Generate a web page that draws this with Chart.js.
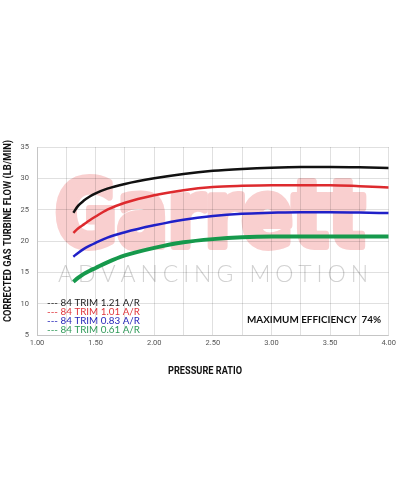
<!DOCTYPE html>
<html>
<head>
<meta charset="utf-8">
<script src="https://cdn.jsdelivr.net/npm/chart.js@4.4.1/dist/chart.umd.min.js"></script>
<style>
    body { margin: 0; background: #fff; }
    #wrap { width: 400px; height: 489px; }
</style>
</head>
<body>
<div id="wrap"><canvas id="flowChart" width="400" height="489"></canvas></div>
<script>
// pressure ratio samples and corrected gas flow (lb/min)
const pressure = [1.31, 1.35, 1.4, 1.45, 1.5, 1.6, 1.75, 2.0, 2.25, 2.5, 2.75, 3.0, 3.25, 3.5, 3.75, 4.0];
const flow121 = [24.5, 25.6, 26.45, 27.1, 27.6, 28.35, 29.1, 30.0, 30.7, 31.2, 31.5, 31.7, 31.8, 31.8, 31.75, 31.65];
const flow101 = [21.3, 22.0, 22.65, 23.3, 23.9, 25.0, 26.1, 27.3, 28.1, 28.6, 28.8, 28.9, 28.9, 28.9, 28.75, 28.55];
const flow083 = [17.5, 18.1, 18.75, 19.25, 19.7, 20.55, 21.4, 22.5, 23.4, 24.0, 24.35, 24.5, 24.6, 24.6, 24.55, 24.45];
const flow061 = [13.5, 14.1, 14.75, 15.25, 15.7, 16.6, 17.7, 18.9, 19.8, 20.3, 20.6, 20.7, 20.7, 20.7, 20.7, 20.7];

const seriesNames = ['84 TRIM 1.21 A/R', '84 TRIM 1.01 A/R', '84 TRIM 0.83 A/R', '84 TRIM 0.61 A/R'];
const seriesColors = ['#111111', '#dd2a2e', '#2020c8', '#16994c'];
const legendColors = ['#222222', '#e0343a', '#2626b8', '#2f9a58'];
const seriesWidths = [2.5, 2.5, 2.5, 4];
const seriesFlows = [flow121, flow101, flow083, flow061];

const xLabelStep = 0.5;   // labelled ticks
const xGridStep = 0.25;   // grid lines
const yStep = 5;

// draw text so it spans a given width (keeps font height, squeezes horizontally)
function fitText(ctx, text, x, y, width, font, align, strokeW) {
    ctx.save();
    ctx.font = font;
    const w = ctx.measureText(text).width + (strokeW || 0);
    const k = width / w;
    ctx.translate(x, y);
    ctx.scale(k, 1);
    ctx.textAlign = align || 'left';
    const off = (strokeW || 0) / 2;
    if (strokeW) {
        ctx.lineWidth = strokeW;
        ctx.lineJoin = 'round';
        ctx.strokeText(text, off, 0);
    }
    ctx.fillText(text, off, 0);
    ctx.restore();
}

const decorPlugin = {
    id: 'decor',
    // watermark goes under the grid
    beforeDraw(chart) {
        const ctx = chart.ctx;
        ctx.save();
        ctx.fillStyle = '#f9cfcf';
        ctx.strokeStyle = '#f9cfcf';
        ctx.textBaseline = 'alphabetic';
        fitText(ctx, 'Garrett', 52, 246, 316, 'bold 90px "DejaVu Sans"', 'left', 8);

        // ADVANCING MOTION, spread across the same width
        const tag = 'ADVANCING MOTION';
        ctx.font = '300 23px Lato';
        ctx.fillStyle = '#d2d2d2';
        const widths = [...tag].map(c => ctx.measureText(c).width);
        const total = widths.reduce((a, b) => a + b, 0);
        const gap = (310 - total) / (tag.length - 1);
        let cx = 58;
        [...tag].forEach((c, i) => {
            ctx.fillText(c, cx, 282);
            cx += widths[i] + gap;
        });
        ctx.restore();
    },
    afterDraw(chart) {
        const ctx = chart.ctx;
        ctx.save();
        ctx.textBaseline = 'middle';

        // legend block, font sized so the first row is ~93px wide
        ctx.font = '10px Lato';
        const size = 10 * 93 / ctx.measureText('--- ' + seriesNames[0]).width;
        ctx.font = size.toFixed(2) + 'px Lato';
        const legendY = [302.5, 312, 321, 330];
        seriesNames.forEach((name, i) => {
            ctx.fillStyle = legendColors[i];
            ctx.fillText('--- ' + name, 47, legendY[i]);
        });

        ctx.fillStyle = '#111';
        fitText(ctx, 'MAXIMUM EFFICIENCY  74%', 247, 320, 134, 'bold 10px Lato');

        // axis titles
        fitText(ctx, 'PRESSURE RATIO', 205, 371, 74, 'bold 10.5px Roboto', 'center');
        ctx.save();
        ctx.translate(8, 231);
        ctx.rotate(-Math.PI / 2);
        fitText(ctx, 'CORRECTED GAS TURBINE FLOW (LB/MIN)', 0, 0, 182, 'bold 10px Roboto', 'center');
        ctx.restore();
        ctx.restore();
    }
};

const ctxFlow = document.getElementById('flowChart').getContext('2d');
new Chart(ctxFlow, {
    type: 'line',
    data: {
        datasets: seriesFlows.map((flow, i) => ({
            label: seriesNames[i],
            data: pressure.map((p, j) => ({ x: p, y: flow[j] })),
            borderColor: seriesColors[i],
            borderWidth: seriesWidths[i],
            pointRadius: 0,
            cubicInterpolationMode: 'monotone',
            fill: false
        }))
    },
    options: {
        responsive: false,
        animation: false,
        layout: { padding: { top: 147, right: 10, bottom: 109, left: 0 } },
        plugins: { legend: { display: false }, tooltip: { enabled: false } },
        scales: {
            x: {
                type: 'linear', min: 1, max: 4,
                afterFit: s => { s.height = 45; },
                grid: { color: 'rgba(0, 0, 0, 0.12)', drawTicks: false },
                border: { color: 'rgba(0, 0, 0, 0.12)' },
                ticks: {
                    stepSize: xGridStep, padding: 4, autoSkip: false, maxRotation: 0,
                    color: '#555', font: { family: 'Roboto', size: 7.5 },
                    callback: v => (Math.abs(v / xLabelStep - Math.round(v / xLabelStep)) < 1e-6 ? v.toFixed(2) : '')
                }
            },
            y: {
                min: 5, max: 35,
                afterFit: s => { s.width = 37; },
                grid: { color: 'rgba(0, 0, 0, 0.12)', drawTicks: false },
                border: { color: 'rgba(0, 0, 0, 0.12)' },
                ticks: {
                    stepSize: yStep, padding: 8,
                    color: '#555', font: { family: 'Roboto', size: 7.5 }
                }
            }
        }
    },
    plugins: [decorPlugin]
});
</script>
</body>
</html>
